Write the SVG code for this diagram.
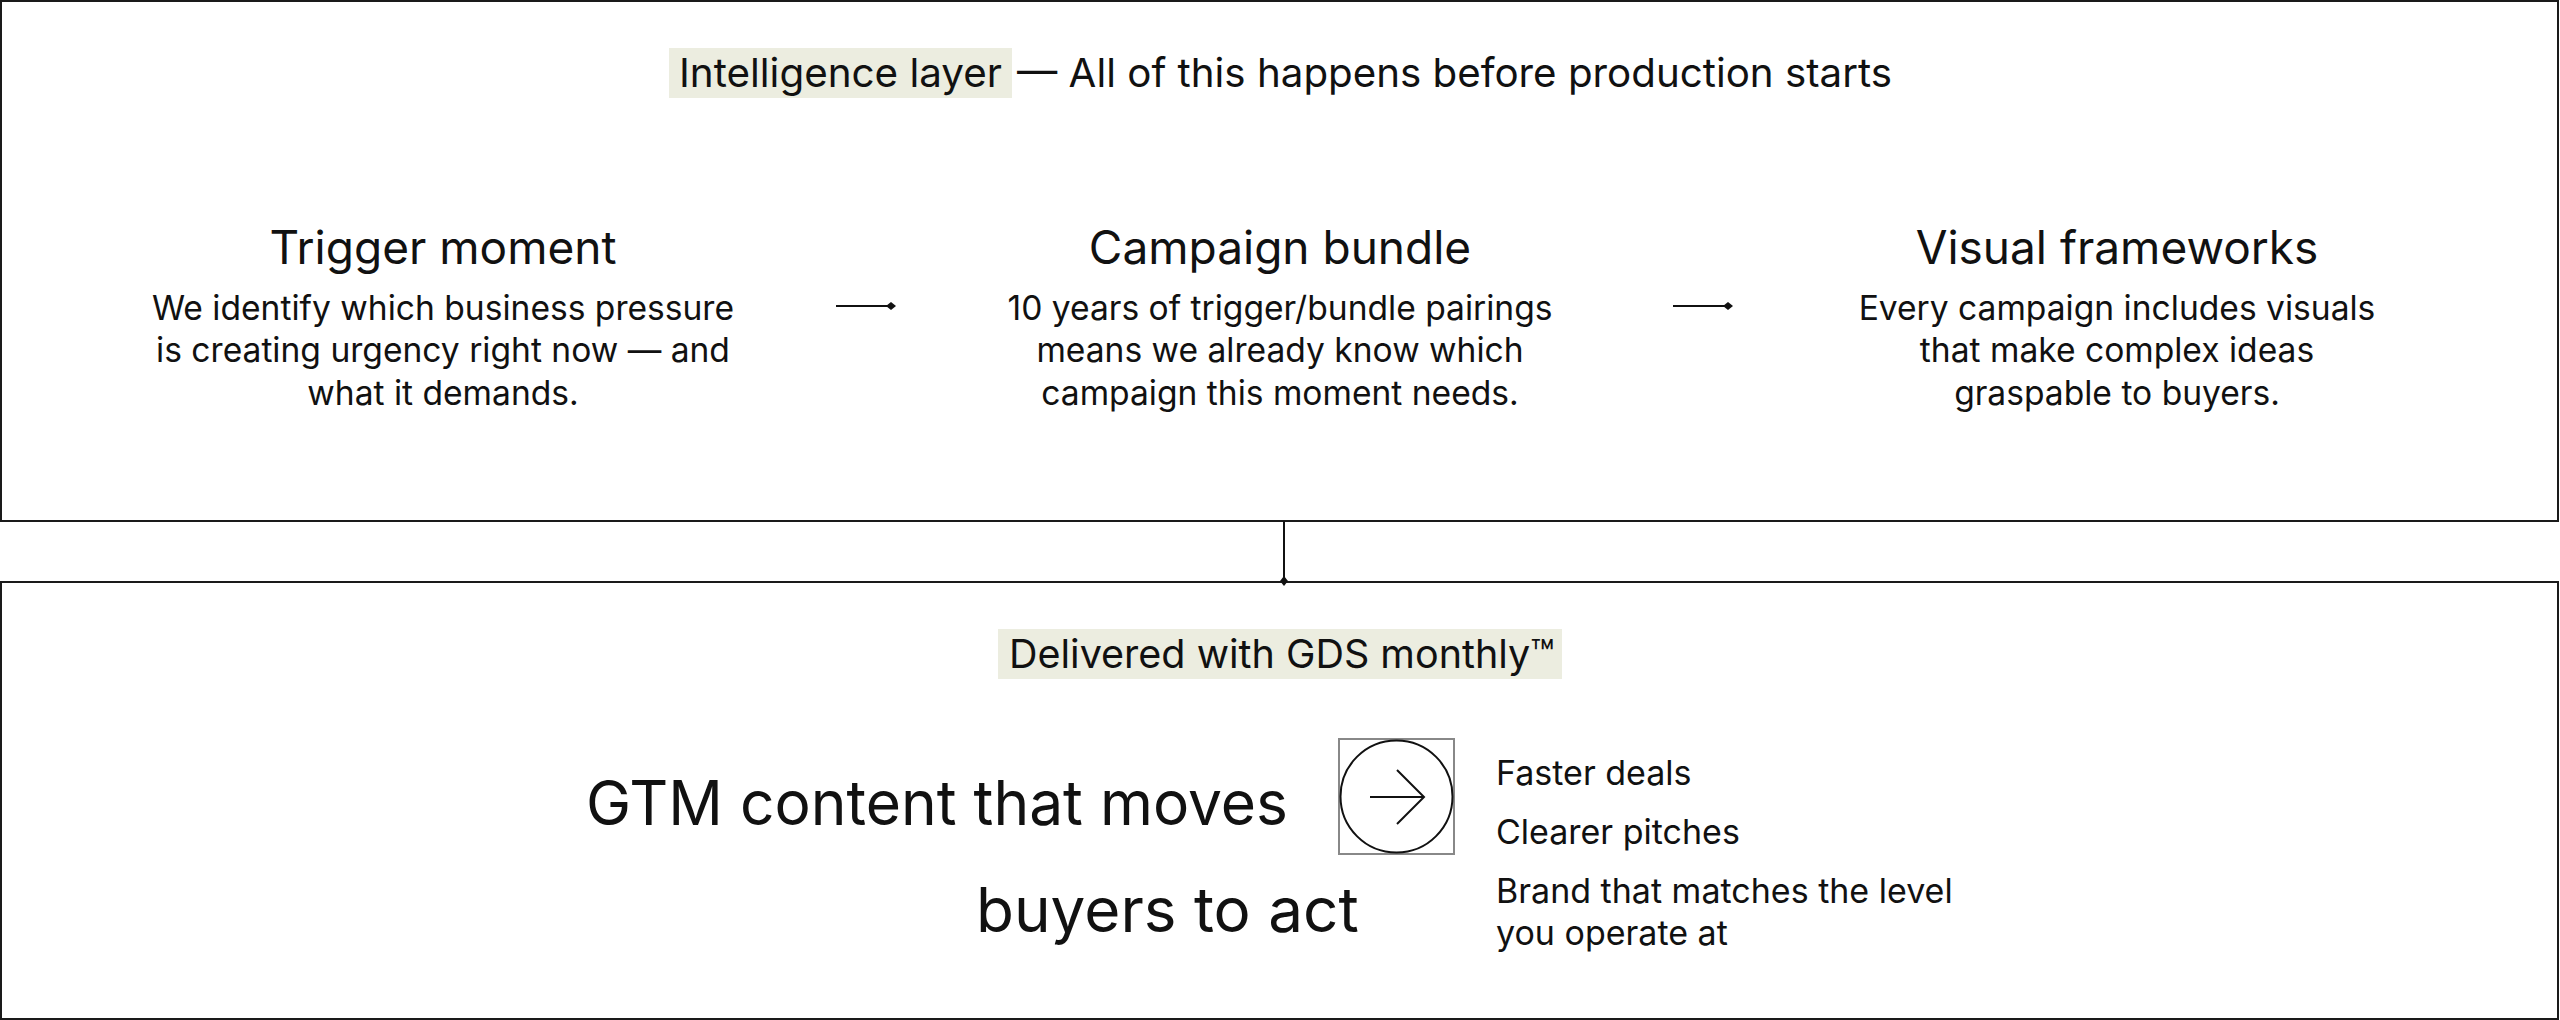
<svg xmlns="http://www.w3.org/2000/svg" width="2560" height="1020" viewBox="0 0 2560 1020">
<defs>
<style>
.frame{fill:#fff;stroke:#1a1a1a;stroke-width:2}
.hl{fill:#ecede0}
.t{font-family:Inter,"Liberation Sans",sans-serif;fill:#111}
.title{font-size:40px}
.head{font-size:46px;text-anchor:middle}
.body{font-size:33.6px;text-anchor:middle}
.big{font-size:62px}
.item{font-size:34px}
.conn{stroke:#111;stroke-width:2;fill:none}
</style>
<marker id="dia" viewBox="-5 -5 10 10" markerWidth="10" markerHeight="10" markerUnits="userSpaceOnUse" refX="0" refY="0" orient="auto">
<path d="M-5 0 L0 -4 L5 0 L0 4 Z" fill="#111"/>
</marker>
</defs>
<rect width="2560" height="1020" fill="#fff"/>

<g id="intelligence-layer">
<rect class="frame" x="1" y="1" width="2557" height="520"/>
<rect class="hl" x="669" y="48" width="343" height="50"/>
<text class="t title" x="679" y="87" textLength="323" lengthAdjust="spacingAndGlyphs">Intelligence layer</text>
<text class="t title" x="1017" y="87" textLength="875" lengthAdjust="spacingAndGlyphs">— All of this happens before production starts</text>
</g>

<g id="trigger-moment">
<text class="t head" x="443" y="264">Trigger moment</text>
<text class="t body" x="443" y="320">We identify which business pressure</text>
<text class="t body" x="443" y="362">is creating urgency right now — and</text>
<text class="t body" x="443" y="405">what it demands.</text>
</g>

<g id="campaign-bundle">
<text class="t head" x="1280" y="264">Campaign bundle</text>
<text class="t body" x="1280" y="320">10 years of trigger/bundle pairings</text>
<text class="t body" x="1280" y="362">means we already know which</text>
<text class="t body" x="1280" y="405">campaign this moment needs.</text>
</g>

<g id="visual-frameworks">
<text class="t head" x="2117" y="264">Visual frameworks</text>
<text class="t body" x="2117" y="320">Every campaign includes visuals</text>
<text class="t body" x="2117" y="362">that make complex ideas</text>
<text class="t body" x="2117" y="405">graspable to buyers.</text>
</g>

<g id="delivery">
<rect class="frame" x="1" y="582" width="2557" height="437"/>
<rect class="hl" x="998" y="629" width="564" height="50"/>
<text class="t" x="1009" y="668" style="font-size:39.5px">Delivered with GDS monthly™</text>
<text class="t big" x="586" y="825" textLength="702" lengthAdjust="spacingAndGlyphs">GTM content that moves</text>
<text class="t big" x="976" y="932">buyers to act</text>
<g id="arrow-icon">
<rect x="1339" y="739" width="115" height="115" fill="none" stroke="#888" stroke-width="2"/>
<ellipse cx="1396.5" cy="796.5" rx="56" ry="56" fill="none" stroke="#111" stroke-width="2"/>
<path d="M1370 797 H1424 M1397 770 L1424 797 L1397 824" fill="none" stroke="#111" stroke-width="2"/>
</g>
<text class="t item" x="1496" y="785">Faster deals</text>
<text class="t item" x="1496" y="844">Clearer pitches</text>
<text class="t item" x="1496" y="903">Brand that matches the level</text>
<text class="t item" x="1496" y="945">you operate at</text>
</g>

<g id="connectors">
<line class="conn" x1="836" y1="306" x2="891" y2="306" marker-end="url(#dia)"/>
<line class="conn" x1="1673" y1="306" x2="1728" y2="306" marker-end="url(#dia)"/>
<line class="conn" x1="1284" y1="521" x2="1284" y2="581" marker-end="url(#dia)"/>
</g>
</svg>
